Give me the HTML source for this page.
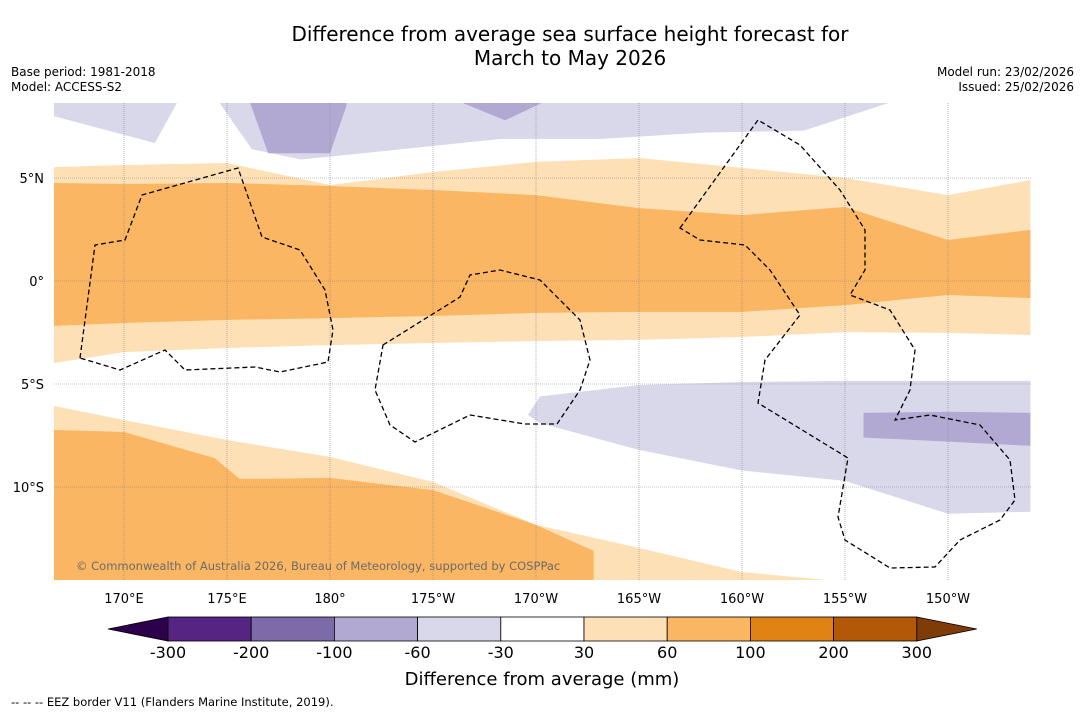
<!DOCTYPE html>
<html><head><meta charset="utf-8">
<style>
body{margin:0;background:#fff;font-family:"DejaVu Sans","Liberation Sans",sans-serif;}
#wrap{position:relative;width:1085px;height:713px;overflow:hidden;}
.t{position:absolute;font-size:12px;color:#000;}
svg text{font-family:"DejaVu Sans","Liberation Sans",sans-serif;}
</style></head>
<body>
<div id="wrap">
<div class="t" style="left:0;width:1140px;top:22px;text-align:center;font-size:20px;line-height:24px;">Difference from average sea surface height forecast for<br>March to May 2026</div>
<div class="t" style="left:11px;top:65px;line-height:15px;">Base period: 1981-2018<br>Model: ACCESS-S2</div>
<div class="t" style="right:11px;top:65px;line-height:15px;text-align:right;">Model run: 23/02/2026<br>Issued: 25/02/2026</div>
<svg id="svg" width="1085" height="713" style="position:absolute;left:0;top:0"></svg>
</div>
<script>
const NS='http://www.w3.org/2000/svg';
const svg=document.getElementById('svg');
// data arrays
const lons=[166.6,170,175,180,185,190,195,200,205,210,214];
const northLightTop=[5.53,5.63,5.73,4.66,5.29,5.78,5.97,5.49,5.0,4.17,4.90];
const northOrangeTop=[4.76,4.71,4.76,4.61,4.42,4.17,3.54,3.2,3.59,1.99,2.48];
const northOrangeBottom=[-2.18,-2.04,-1.89,-1.80,-1.70,-1.55,-1.50,-1.50,-1.17,-0.68,-0.83];
const northLightBottom=[-3.98,-3.45,-3.25,-3.11,-3.01,-2.91,-2.86,-2.72,-2.48,-2.52,-2.62];
const southLightTop=[-6.07,-6.75,-7.72,-8.54,-9.76,-11.84,-12.96,-14.13,-14.6,-14.6,-14.6];
const southOrangeLons=[166.6,170,174.4,175.6,177,180,185,190,192.8];
const southOrangeTop=[-7.23,-7.33,-8.6,-9.6,-9.6,-9.56,-10.15,-11.84,-13.1];
const nPurpleLons=[174.6,176.2,178.6,183.5,188.3,193.2,198.1,203,207.3];
const nPurpleBottom=[8.7,6.4,5.9,6.4,6.9,6.9,7.2,7.3,8.7];
const nPurpleLeftLons=[166.6,171.5,172.6];
const nPurpleLeftBottom=[8.0,6.7,8.7];
const nDarkLons=[176.1,177,180,180.8];
const nDarkBottom=[8.7,6.2,6.2,8.5];
const nDark2Lons=[186.3,188.5,190.4];
const nDark2Bottom=[8.7,7.8,8.7];
const sPurpleLons=[189.6,190.2,195,200,205,210,214];
const sPurpleTop=[-6.5,-5.6,-5.05,-4.9,-4.85,-4.85,-4.85];
const sPurpleBottom=[-6.5,-6.9,-8.2,-9.2,-9.7,-11.3,-11.2];
const sDarkLons=[205.9,210,214];
const sDarkTop=[-6.4,-6.35,-6.4];
const sDarkBottom=[-7.6,-7.8,-8.0];
const lonTicks=[170,175,180,185,190,195,200,205,210];
const lonLabels=['170°E','175°E','180°','175°W','170°W','165°W','160°W','155°W','150°W'];
const latTicks=[5,0,-5,-10];
const latLabels=['5°N','0°','5°S','10°S'];
const cbLabels=['-300','-200','-100','-60','-30','30','60','100','200','300'];
const cbColors=['#562483','#7d6aa8','#b1a9d1','#d8d8ea','#ffffff','#fde0b6','#fab662','#e08214','#b35806'];

const X0=54,X1=1031,Y0=103,Y1=580;
const x=l=>124+(l-170)*20.6;
const y=la=>281-la*20.6;
function el(tag,attrs,parent){const e=document.createElementNS(NS,tag);for(const k in attrs)e.setAttribute(k,attrs[k]);(parent||svg).appendChild(e);return e;}
const clip=el('clipPath',{id:'mc'});el('rect',{x:X0,y:Y0,width:X1-X0,height:Y1-Y0},clip);
const g=el('g',{'clip-path':'url(#mc)'});


function band(ls,top,bot,fill,name){
  let pts=ls.map((l,i)=>x(l)+','+y(top[i]));
  for(let i=ls.length-1;i>=0;i--)pts.push(x(ls[i])+','+(typeof bot==='number'?y(bot):y(bot[i])));
  const p=el('polygon',{points:pts.join(' '),fill:fill},g);
  
  
}
band(lons,northLightTop,northLightBottom,'#fde0b6','north-30-60-band');
band(lons,northOrangeTop,northOrangeBottom,'#fab662','north-60-100-band');
band(lons,southLightTop,-15,'#fde0b6','south-30-60-band');
band(southOrangeLons,southOrangeTop,-15,'#fab662','south-60-100-band');
band(nPurpleLons,nPurpleBottom.map(()=>9),nPurpleBottom,'#d8d8ea','north-purple-light');
band(nPurpleLeftLons,nPurpleLeftBottom.map(()=>9),nPurpleLeftBottom,'#d8d8ea','north-purple-left');
band(nDarkLons,nDarkBottom.map(()=>9),nDarkBottom,'#b1a9d1','north-purple-dark');
band(nDark2Lons,nDark2Bottom.map(()=>9),nDark2Bottom,'#b1a9d1','north-purple-dark-2');
band(sPurpleLons,sPurpleTop,sPurpleBottom,'#d8d8ea','south-purple-light');
band(sDarkLons,sDarkTop,sDarkBottom,'#b1a9d1','south-purple-dark');
// gridlines
lonTicks.forEach((l,i)=>{
  const ln=el('line',{x1:x(l),x2:x(l),y1:Y0,y2:Y1,stroke:'#888','stroke-width':0.6,'stroke-dasharray':'1,1'},g);
  
  
  const t=el('text',{x:x(l),y:603,'text-anchor':'middle','font-size':13});
  t.textContent=lonLabels[i];
  
  
});
latTicks.forEach((la,i)=>{
  const ln=el('line',{x1:X0,x2:X1,y1:y(la),y2:y(la),stroke:'#888','stroke-width':0.6,'stroke-dasharray':'1,1'},g);
  
  
  const t=el('text',{x:44,y:y(la)+5,'text-anchor':'end','font-size':13});
  t.textContent=latLabels[i];
  
  
});
// EEZ borders (map features)
const eez=['M80,358 L95,245 L125,240 L142,195 L238,168 L262,237 L300,250 L325,290 L333,330 L328,362 L280,372 L255,367 L185,370 L165,350 L120,370 Z',
'M383,345 L460,297 L470,275 L500,270 L540,280 L580,320 L590,360 L580,390 L557,424 L525,424 L470,415 L415,442 L390,425 L375,390 Z',
'M680,228 L758,120 L800,145 L840,190 L865,230 L865,270 L850,295 L890,310 L915,350 L910,390 L895,420 L930,415 L980,425 L1010,460 L1015,500 L1000,520 L960,540 L935,567 L890,568 L845,540 L838,517 L848,458 L758,403 L765,360 L800,315 L770,270 L745,245 L700,240 Z'];
eez.forEach(d=>{const p=el('path',{d:d,fill:'none',stroke:'#000','stroke-width':1.3,'stroke-dasharray':'5,3'},g);
});
const cp=el('text',{x:76,y:570,'font-size':11.5,fill:'#6b6b6b'});cp.textContent='© Commonwealth of Australia 2026, Bureau of Meteorology, supported by COSPPac';

// colorbar
const cb=el('g',{});

const bx0=168,bw=83.2,by=617,bh=24;
el('polygon',{points:`108,${by+bh/2} ${bx0},${by} ${bx0},${by+bh}`,fill:'#2d004b',stroke:'#000','stroke-width':0.8},cb);
cbColors.forEach((c,i)=>{const r=el('rect',{x:bx0+i*bw,y:by,width:bw,height:bh,fill:c,stroke:'#000','stroke-width':0.8},cb);
});
const bx1=bx0+cbColors.length*bw;
el('polygon',{points:`${bx1},${by} ${bx1+60},${by+bh/2} ${bx1},${by+bh}`,fill:'#7f3b08',stroke:'#000','stroke-width':0.8},cb);
cbLabels.forEach((s,i)=>{const t=el('text',{x:bx0+i*bw,y:658,'text-anchor':'middle','font-size':16},cb);t.textContent=s;
});
const ct=el('text',{x:542,y:685,'text-anchor':'middle','font-size':18});ct.textContent='Difference from average (mm)';

const ft=el('text',{x:11,y:706,'font-size':11.5});ft.textContent='--  --  -- EEZ border V11 (Flanders Marine Institute, 2019).';

</script>
</body></html>
